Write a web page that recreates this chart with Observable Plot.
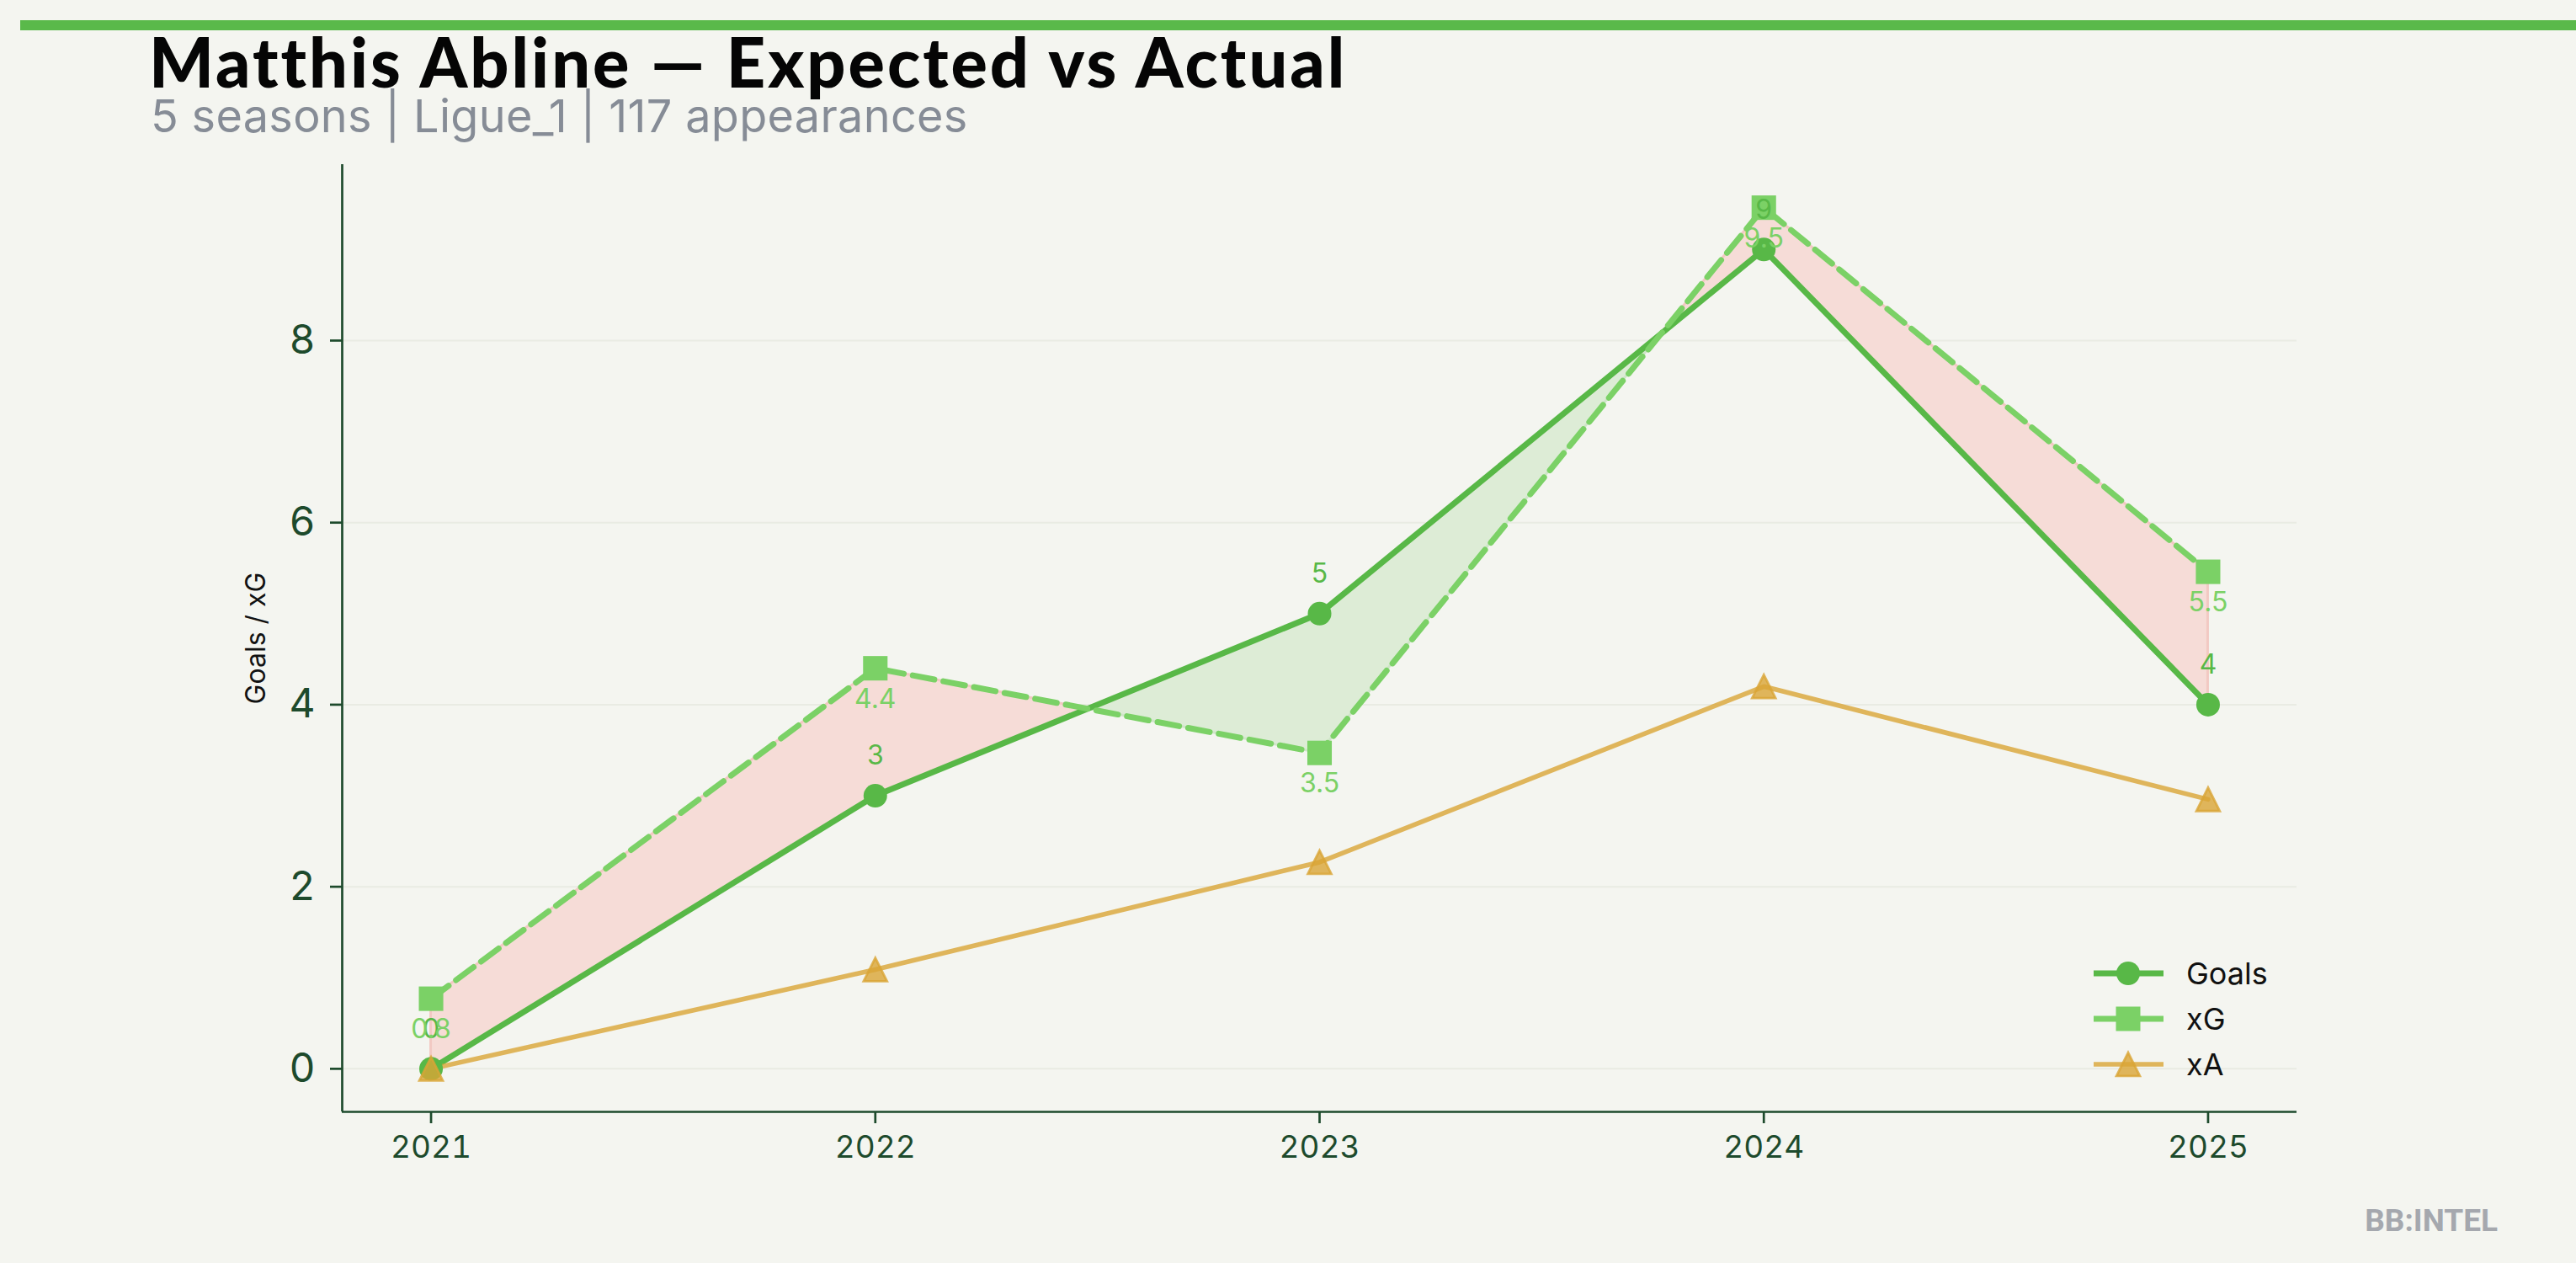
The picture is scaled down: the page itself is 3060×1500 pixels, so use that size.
<!DOCTYPE html>
<html>
<head>
<meta charset="utf-8">
<script src="https://cdn.jsdelivr.net/npm/d3@7"></script>
<script src="https://cdn.jsdelivr.net/npm/@observablehq/plot@0.6"></script>
<style>
  html, body { margin: 0; padding: 0; background: #f4f5f0; }
  #page { position: relative; width: 3060px; height: 1500px; background: #f4f5f0; overflow: hidden; }
  #bar { position: absolute; left: 24px; top: 24px; width: 3036px; height: 12px; background: #5ab94a; }
  #title { position: absolute; left: 177px; top: 37px; font-family: Lato, sans-serif; font-weight: 900;
           font-size: 81px; line-height: 0.9; color: #050505; white-space: nowrap; letter-spacing: 3px; }
  #subtitle { position: absolute; left: 179px; top: 111px; font-family: Inter, sans-serif; font-weight: 400;
              font-size: 54px; line-height: 1; color: #868c96; white-space: nowrap; letter-spacing: 0.3px; }
  #chart { position: absolute; left: 0; top: 170px; }
  #legend { position: absolute; left: 2470px; top: 1120px; }
  #mark { position: absolute; right: 93px; top: 1431px; font-family: Roboto, sans-serif; font-weight: 700;
          font-size: 37px; line-height: 1; color: #a5a8ae; }
</style>
</head>
<body>
<div id="page">
  <div id="bar"></div>
  <div id="title">Matthis Abline — Expected vs Actual</div>
  <div id="subtitle">5 seasons | Ligue_1 | 117 appearances</div>
  <div id="chart"></div>
  <div id="legend"></div>
  <div id="mark">BB:INTEL</div>
</div>
<script>
// ---- data ----
const seasons = [2021, 2022, 2023, 2024, 2025];
const goals   = [0, 3, 5, 9, 4];
const xG      = [0.77, 4.40, 3.47, 9.46, 5.46];
const xA      = [0.00, 1.09, 2.27, 4.20, 2.96];
const yTicks  = [0, 2, 4, 6, 8];
const seriesNames = ["Goals", "xG", "xA"];

// ---- styles ----
const cGoals = "#58b847", cXG = "#7bd166", cXA = "#d9a536";
const cPink = "#f6dcd7", cPinkEdge = "#f2c9c3", cGreenFill = "#ddecd6", cGreenEdge = "#cfe5c8";
const axisColor = "#1d4a2c";

const rows = seasons.map((s, i) => ({season: s, goals: goals[i], xG: xG[i], xA: xA[i]}));

// domains with 5% margins (matplotlib-like)
const allY = goals.concat(xG, xA);
const yMin = d3.min(allY), yMax = d3.max(allY), yPad = (yMax - yMin) * 0.05;
const yDomain = [yMin - yPad, yMax + yPad];
const xMin = d3.min(seasons), xMax = d3.max(seasons), xPad = (xMax - xMin) * 0.05;
const xDomain = [xMin - xPad, xMax + xPad];

// regions between goals and xG, split at crossings
const regionPts = [];
let regionId = 0;
let curType = (xG[0] - goals[0]) >= 0 ? "over" : "under";
regionPts.push({x: seasons[0], a: goals[0], b: xG[0], region: regionId, type: curType});
for (let i = 0; i < seasons.length - 1; i++) {
  const d0 = xG[i] - goals[i], d1 = xG[i + 1] - goals[i + 1];
  if (d0 * d1 < 0) {
    const t = d0 / (d0 - d1);
    const cx = seasons[i] + t * (seasons[i + 1] - seasons[i]);
    const cy = goals[i] + t * (goals[i + 1] - goals[i]);
    regionPts.push({x: cx, a: cy, b: cy, region: regionId, type: curType});
    regionId++;
    curType = d1 >= 0 ? "over" : "under";
    regionPts.push({x: cx, a: cy, b: cy, region: regionId, type: curType});
  }
  regionPts.push({x: seasons[i + 1], a: goals[i + 1], b: xG[i + 1], region: regionId, type: curType});
}

const triangle = {
  draw(context, size) {
    const s = Math.sqrt(size / Math.PI);
    context.moveTo(0, -s);
    context.lineTo(s, s);
    context.lineTo(-s, s);
    context.closePath();
  }
};

const chart = Plot.plot({
  width: 3060,
  height: 1330,
  marginLeft: 406,
  marginRight: 332,
  marginTop: 25,
  marginBottom: 180,
  x: {type: "linear", domain: xDomain},
  y: {type: "linear", domain: yDomain},
  style: {background: "transparent", fontFamily: "Inter, sans-serif", color: axisColor, overflow: "visible"},
  marks: [
    Plot.gridY(yTicks, {stroke: "#e9ebe3", strokeOpacity: 1, strokeWidth: 2}),
    Plot.areaY(regionPts.filter(d => d.type === "over"), {x: "x", y1: "a", y2: "b", z: "region",
      fill: cPink, stroke: cPinkEdge, strokeWidth: 3, curve: "linear"}),
    Plot.areaY(regionPts.filter(d => d.type === "under"), {x: "x", y1: "a", y2: "b", z: "region",
      fill: cGreenFill, stroke: cGreenEdge, strokeWidth: 3, curve: "linear"}),
    Plot.line(rows, {x: "season", y: "goals", stroke: cGoals, strokeWidth: 7}),
    Plot.line(rows, {x: "season", y: "xG", stroke: cXG, strokeWidth: 7, strokeDasharray: "26,11"}),
    Plot.line(rows, {x: "season", y: "xA", stroke: cXA, strokeOpacity: 0.8, strokeWidth: 5.6}),
    Plot.dot(rows, {x: "season", y: "goals", r: 14, fill: cGoals, stroke: "none"}),
    Plot.dot(rows, {x: "season", y: "xG", r: 16.4, symbol: "square", fill: cXG, stroke: "none"}),
    Plot.dot(rows, {x: "season", y: "xA", r: 13.9, symbol: triangle, fill: cXA, fillOpacity: 0.8,
      stroke: cXA, strokeOpacity: 0.8, strokeWidth: 2.8}),
    Plot.text(rows, {x: "season", y: "goals", text: d => d3.format(".0f")(d.goals), dy: -47,
      fill: cGoals, fontSize: 32, lineAnchor: "middle"}),
    Plot.text(rows, {x: "season", y: "xG", text: d => (Math.round(d.xG * 10) / 10).toFixed(1), dy: 37,
      fill: cXG, fontSize: 32, lineAnchor: "middle"}),
    Plot.ruleX([xDomain[0]], {y1: yDomain[0], y2: yDomain[1], stroke: axisColor, strokeWidth: 2.7}),
    Plot.ruleY([yDomain[0]], {x1: xDomain[0], x2: xDomain[1], stroke: axisColor, strokeWidth: 2.7}),
    Plot.axisY({ticks: yTicks, tickFormat: d => String(d), tickSize: 14, tickPadding: 18, fontSize: 48,
      strokeWidth: 2.7, label: null}),
    Plot.axisX({ticks: seasons, tickFormat: d => String(d), tickSize: 14, tickPadding: 14, fontSize: 37,
      strokeWidth: 2.7, label: null}),
    Plot.text(["Goals / xG"], {frameAnchor: "left", text: d => d, rotate: -90, dx: -102,
      textAnchor: "middle", lineAnchor: "middle", fontSize: 32, fill: "#111111"})
  ]
});
document.getElementById("chart").appendChild(chart);

// ---- legend ----
const legendItems = [
  {name: seriesNames[0], color: cGoals, kind: "circle"},
  {name: seriesNames[1], color: cXG, kind: "square"},
  {name: seriesNames[2], color: cXA, kind: "triangle"}
];
const lg = d3.select("#legend").append("svg").attr("width", 320).attr("height", 180)
  .style("overflow", "visible");
legendItems.forEach((it, i) => {
  const cy = 36 + i * 54;
  const g = lg.append("g").attr("transform", `translate(0,${cy})`);
  const isXA = it.kind === "triangle";
  g.append("line").attr("x1", 17).attr("x2", 100).attr("y1", 0).attr("y2", 0)
    .attr("stroke", it.color).attr("stroke-width", isXA ? 5.6 : 7)
    .attr("stroke-opacity", isXA ? 0.8 : 1);
  if (it.kind === "circle") {
    g.append("circle").attr("cx", 58).attr("cy", 0).attr("r", 14).attr("fill", it.color);
  } else if (it.kind === "square") {
    g.append("rect").attr("x", 58 - 14.5).attr("y", -14.5).attr("width", 29).attr("height", 29).attr("fill", it.color);
  } else {
    g.append("path").attr("d", "M58,-13.9L71.9,13.9L44.1,13.9Z").attr("fill", it.color).attr("fill-opacity", 0.8)
      .attr("stroke", it.color).attr("stroke-opacity", 0.8).attr("stroke-width", 2.8);
  }
  g.append("text").attr("x", 127).attr("y", 0).attr("dominant-baseline", "central")
    .attr("font-family", "Inter, sans-serif").attr("font-size", 36).attr("fill", "#111111").text(it.name);
});
</script>
</body>
</html>
